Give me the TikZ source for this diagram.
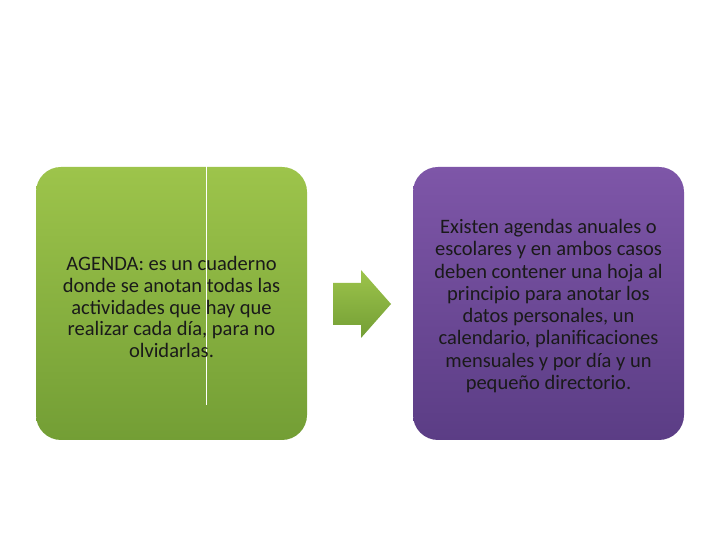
\documentclass[tikz,border=0pt]{standalone}
\usepackage{fontspec}
\setmainfont{Carlito}
\definecolor{gtop}{HTML}{9DC44B}
\definecolor{gbot}{HTML}{739E35}
\definecolor{ptop}{HTML}{7E56A8}
\definecolor{pbot}{HTML}{5B3D85}
\definecolor{txt}{HTML}{1A1A1A}
\tikzset{
  boxg/.style={rounded corners=25bp, top color=gtop, bottom color=gbot, draw=none},
  boxp/.style={rounded corners=25bp, top color=ptop, bottom color=pbot, draw=none},
  boxtext/.style={align=center, text=txt, font=\fontsize{20.5bp}{21.8bp}\selectfont, inner sep=0pt},
}
\begin{document}
\begin{tikzpicture}[x=1bp,y=1bp]
\useasboundingbox (0,0) rectangle (720,540);
\fill[white] (0,0) rectangle (720,540);
% left box
\path[boxg] (36,100) rectangle (307,373);
\coordinate (vt) at (206,377);
\coordinate (vb) at (206,135);
\draw[white, line width=1bp] (vt) -- (vb);
\node[boxtext] (lt) at (171.5,233) {AGENDA: es un cuaderno\\donde se anotan todas las\\actividades que hay que\\realizar cada día, para no\\olvidarlas.};
% arrow
\path[top color=gtop, bottom color=gbot] (333,257) -- (361,257) -- (361,270) -- (391,236) -- (361,202) -- (361,215) -- (333,215) -- cycle;
% right box
\path[boxp] (413,100) rectangle (684,373);
\node[boxtext, font=\fontsize{20.5bp}{22.3bp}\selectfont] (rt) at (548.5,234) {Existen agendas anuales o\\escolares y en ambos casos\\deben contener una hoja al\\principio para anotar los\\datos personales, un\\calendario, planificaciones\\mensuales y por día y un\\pequeño directorio.};
\end{tikzpicture}
\end{document}
